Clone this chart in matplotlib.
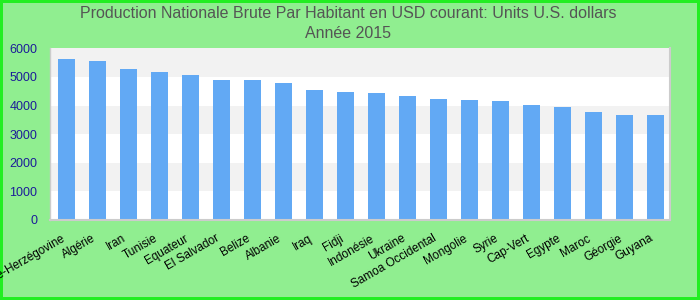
import matplotlib.pyplot as plt
import matplotlib.transforms as mtransforms
import numpy as np

countries = ["Bosnie-Herzégovine", "Algérie", "Iran", "Tunisie", "Equateur",
             "El Salvador", "Belize", "Albanie", "Iraq", "Fidji", "Indonésie",
             "Ukraine", "Samoa Occidental", "Mongolie", "Syrie", "Cap-Vert",
             "Egypte", "Maroc", "Géorgie", "Guyana"]
values = [5620, 5555, 5275, 5170, 5065, 4890, 4890, 4785, 4540, 4470,
          4440, 4330, 4230, 4195, 4160, 4020, 3950, 3775, 3670, 3670]
yticks = [0, 1000, 2000, 3000, 4000, 5000, 6000]

plt.rcParams["font.family"] = ["Liberation Sans", "DejaVu Sans"]

fig = plt.figure(figsize=(7, 3), dpi=100, facecolor="#90ee90",
                 edgecolor="#22ee22", linewidth=3)
ax = fig.add_axes([0.0714, 0.267, 0.886, 0.572])
ax.set_facecolor("white")

# alternating horizontal bands, grey on top
for i in range(len(yticks) - 1):
    if (len(yticks) - 2 - i) % 2 == 0:
        ax.axhspan(yticks[i], yticks[i + 1], color="#f2f2f2", zorder=0, lw=0)

x = np.arange(len(countries))
ax.bar(x, values, width=0.55, color="#62a9f4", zorder=2)

ax.set_xlim(-0.53, len(countries) - 0.52)
ax.set_ylim(0, 6000)
ax.set_yticks(yticks)
ax.set_yticklabels([str(v) for v in yticks], color="#1c1c99", fontsize=9)
ax.set_xticks(x)
ax.set_xticklabels(countries, rotation=30, ha="right", va="top",
                   rotation_mode="anchor", fontsize=8.5, color="black")
ax.tick_params(axis="both", length=0)
ax.tick_params(axis="y", pad=9)
ax.tick_params(axis="x", pad=9)

# nudge x labels a bit left, like the reference
shift = mtransforms.ScaledTranslation(-6 / 100, 0, fig.dpi_scale_trans)
for lbl in ax.get_xticklabels():
    lbl.set_transform(lbl.get_transform() + shift)

for s in ax.spines.values():
    s.set_color("#cccccc")
    s.set_linewidth(1)
ax.spines["top"].set_visible(False)
ax.spines["right"].set_linewidth(1.5)
ax.spines["bottom"].set_linewidth(1.5)

fig.text(0.497, 1 - 13 / 300, "Production Nationale Brute Par Habitant en USD courant: Units U.S. dollars",
         ha="center", va="center", fontsize=11.5, color="#555555")
fig.text(0.497, 1 - 33 / 300, "Année 2015",
         ha="center", va="center", fontsize=11.5, color="#555555")

fig.savefig("out.png", dpi=100, facecolor=fig.get_facecolor(), edgecolor=fig.get_edgecolor())
